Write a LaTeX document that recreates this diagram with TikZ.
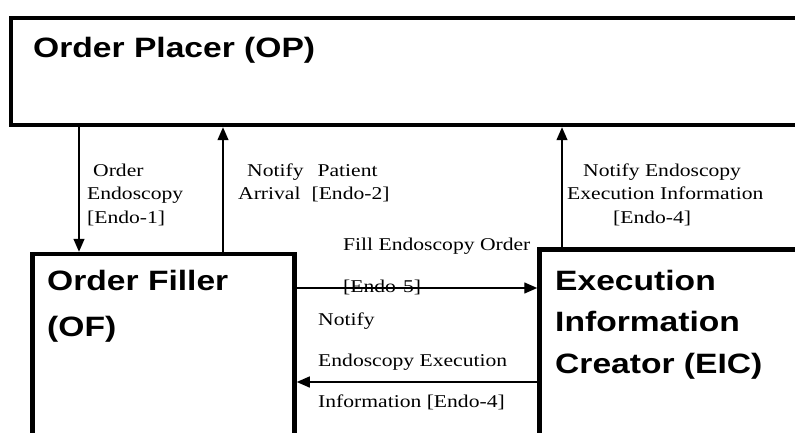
\documentclass[tikz,border=0pt]{standalone}
\usepackage{fontspec}
\usetikzlibrary{arrows.meta}
% Arial-like bold titles and Times-like message labels, both set a little wide
\newfontfamily\titlefont{Liberation Sans}[FakeStretch=1.2]
\newfontfamily\msgfont{Liberation Serif}[FakeStretch=1.2]
% left-aligned lines whose reference point is the first baseline
\newcommand{\msglines}[1]{\begin{tabular}[t]{@{}l@{}}#1\end{tabular}}

\begin{document}
\begin{tikzpicture}[x=1pt,y=-1pt,
  actor/.style={draw=black, line width=4.5pt, inner sep=0pt},
  title/.style={anchor=base west, inner sep=0pt, font=\titlefont\bfseries},
  msg/.style={anchor=base west, inner sep=0pt, font=\msgfont},
  flow/.style={draw=black, line width=1.4pt, -{Triangle[length=13pt,width=11pt]}}]

\useasboundingbox (0,0) rectangle (795,433);
\fill[white] (0,0) rectangle (795,433);
\clip (0,0) rectangle (795,433);

% actors (the right and lower sides run past the page)
\node[actor, minimum width=819pt, minimum height=107pt] (OP)  at (420.5,71.5) {};
\node[actor, minimum width=262pt, minimum height=206pt] (OF)  at (163.5,357) {};
\node[actor, minimum width=290.5pt, minimum height=210.5pt] (EIC) at (684.75,354.75) {};

% actor titles
\node[title] (opname) at (33,58)
  {\fontsize{28}{34}\selectfont Order Placer (OP)};
\node[title] (ofname) at (47,290)
  {\fontsize{28}{46}\selectfont\msglines{Order Filler\\(OF)}};
\node[title] (eicname) at (555,290)
  {\fontsize{28}{41.5}\selectfont\msglines{Execution\\Information\\Creator (EIC)}};

% transaction labels
\node[msg] (m1) at (87,176)
  {\fontsize{18}{23.5}\selectfont\msglines{\hspace*{6pt}Order\\Endoscopy\\{}[Endo-1]}};
\node[msg] (m2) at (238,176)
  {\fontsize{18}{23.5}\selectfont\msglines{\hspace*{9pt}Notify\hspace{14pt}Patient\\Arrival\hspace{11pt}[Endo-2]}};
\node[msg] (m4up) at (567,176)
  {\fontsize{18}{23.5}\selectfont\msglines{\hspace*{16pt}Notify Endoscopy\\Execution Information\\\hspace*{46pt}[Endo-4]}};
\node[msg] (m5) at (343,250)
  {\fontsize{18}{42}\selectfont\msglines{Fill Endoscopy Order\\{}[Endo-5]}};
\node[msg] (m4) at (318,325.5)
  {\fontsize{18}{41}\selectfont\msglines{Notify\\Endoscopy Execution\\Information [Endo-4]}};

% transactions
\draw[flow] (79,0 |- OP.south) -- (79,0 |- OF.north);
\draw[flow] (223,0 |- OF.north) -- (223,0 |- OP.south);
\draw[flow] (562,0 |- EIC.north) -- (562,0 |- OP.south);
\draw[flow] (OF.east |- 0,288) -- (EIC.west |- 0,288);
\draw[flow] (EIC.west |- 0,382) -- (OF.east |- 0,382);

\end{tikzpicture}
\end{document}
